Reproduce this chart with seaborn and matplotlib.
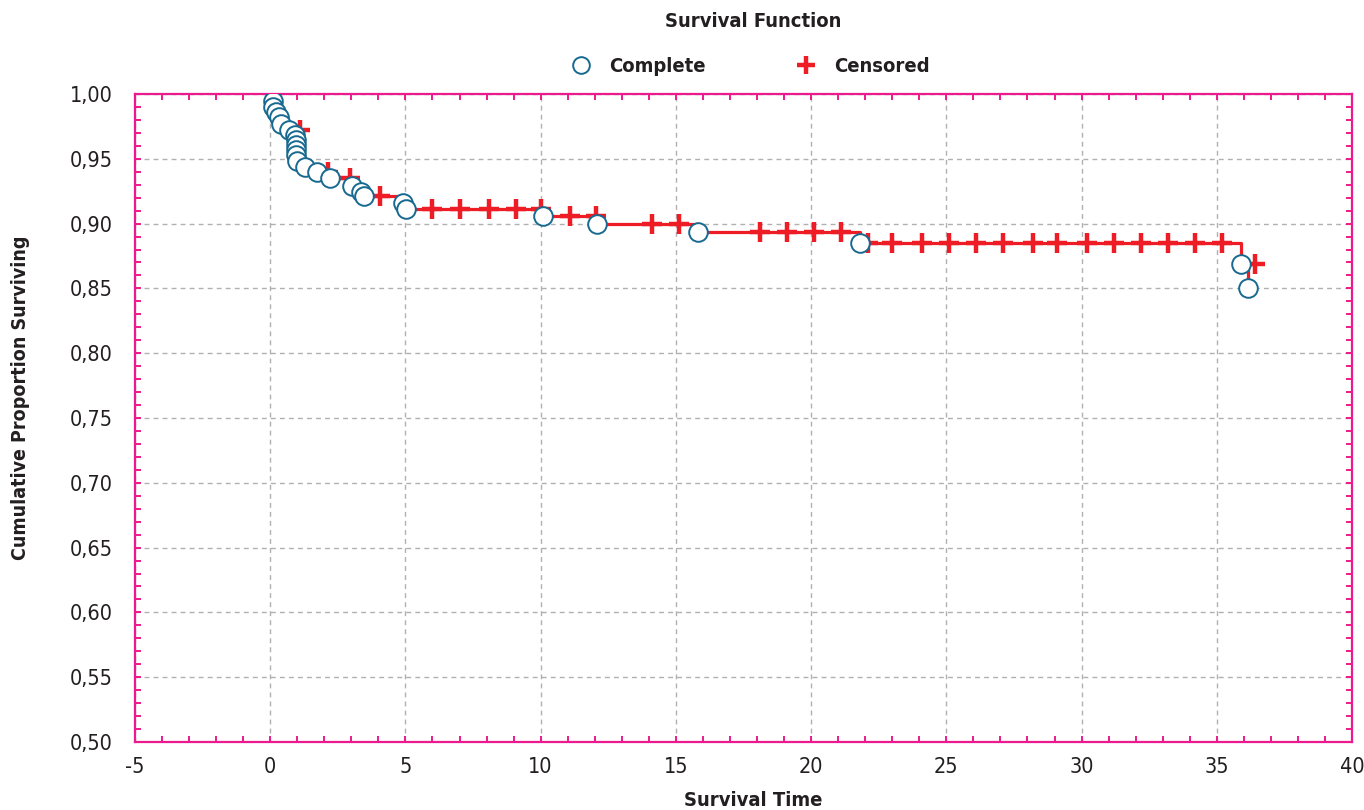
import matplotlib
matplotlib.use("Agg")
import matplotlib.pyplot as plt
from matplotlib.lines import Line2D
from matplotlib.ticker import MultipleLocator, FuncFormatter
from matplotlib import font_manager
import seaborn as sns
import pandas as pd

# ---- data ----
complete_time = [0.11, 0.11, 0.22, 0.33, 0.40, 0.70, 0.92, 0.96, 0.96, 0.96, 0.96, 1.00,
                 1.30, 1.74, 2.22, 3.03, 3.36, 3.48, 4.92, 5.03, 10.10, 12.10, 15.80,
                 21.80, 35.90, 36.15]
complete_surv = [0.9946, 0.990, 0.986, 0.982, 0.977, 0.972, 0.968, 0.9645, 0.9606, 0.9568,
                 0.953, 0.948, 0.944, 0.940, 0.935, 0.929, 0.924, 0.921, 0.916, 0.911,
                 0.906, 0.8997, 0.8933, 0.885, 0.869, 0.850]
censored_time = [1.10, 2.15, 2.96, 4.05, 6.00, 7.00, 8.10, 9.10, 10.00, 11.10, 12.05,
                 14.10, 15.10, 18.10, 19.10, 20.10, 21.10,
                 22.10, 23.00, 24.10, 25.10, 26.10, 27.10, 28.20, 29.10, 30.20, 31.20,
                 32.20, 33.20, 34.20, 35.20, 36.40]
censored_surv = [0.972, 0.940, 0.935, 0.921, 0.911, 0.911, 0.911, 0.911, 0.911, 0.906, 0.906,
                 0.8997, 0.8997, 0.8933, 0.8933, 0.8933, 0.8933,
                 0.885, 0.885, 0.885, 0.885, 0.885, 0.885, 0.885, 0.885, 0.885, 0.885,
                 0.885, 0.885, 0.885, 0.885, 0.869]
start_time = [0.0]
start_surv = [1.0]

title = "Survival Function"
legend_labels = ["Complete", "Censored"]
xlabel = "Survival Time"
ylabel = "Cumulative Proportion Surviving"

# ---- style ----
RED = "#ee1c25"
BLUE = "#17698f"
MAG = "#ec1a8c"
TXT = "#231f20"

sns.set_theme(style="white")
names = {f.name for f in font_manager.fontManager.ttflist}
if "Liberation Sans Narrow" in names:
    plt.rcParams["font.family"] = ["Liberation Sans Narrow", "DejaVu Sans"]
else:
    plt.rcParams["font.family"] = ["DejaVu Sans"]
    plt.rcParams["font.stretch"] = "condensed"

fig = plt.figure(figsize=(13.64, 8.10), dpi=100)
ax = fig.add_axes([135 / 1364, 1 - 742 / 810, (1352 - 135) / 1364, (742 - 94) / 810])

step_df = pd.DataFrame({"t": start_time + complete_time, "s": start_surv + complete_surv})
sns.lineplot(data=step_df, x="t", y="s", ax=ax, estimator=None, sort=False,
             drawstyle="steps-post", color=RED, linewidth=2.3, zorder=3)

cens_df = pd.DataFrame({"t": censored_time, "s": censored_surv})
sns.scatterplot(data=cens_df, x="t", y="s", ax=ax, marker="+", s=220, color=RED,
                linewidth=3.2, zorder=4)

comp_df = pd.DataFrame({"t": complete_time, "s": complete_surv})
sns.scatterplot(data=comp_df, x="t", y="s", ax=ax, marker="o", s=180, facecolor="white",
                edgecolor=BLUE, linewidth=1.4, zorder=5)

ax.set_xlim(-5, 40)
ax.set_ylim(0.50, 1.00)
ax.xaxis.set_major_locator(MultipleLocator(5))
ax.xaxis.set_minor_locator(MultipleLocator(1))
ax.yaxis.set_major_locator(MultipleLocator(0.05))
ax.yaxis.set_minor_locator(MultipleLocator(0.01))
ax.yaxis.set_major_formatter(FuncFormatter(lambda v, p: f"{v:.2f}".replace(".", ",")))
ax.xaxis.set_major_formatter(FuncFormatter(lambda v, p: f"{v:.0f}"))

ax.tick_params(which="both", direction="in", top=True, right=True, bottom=True, left=True,
               color=MAG, width=1.4, length=4, labelsize=15.5, labelcolor=TXT)
ax.tick_params(axis="y", which="major", pad=16)
ax.tick_params(axis="x", which="major", pad=11)

ax.grid(True, which="major", color="#b0b0b0", linestyle=(0, (3.5, 3)), linewidth=1.0)
for sp in ax.spines.values():
    sp.set_color(MAG)
    sp.set_linewidth(1.6)
    sp.set_visible(True)
ax.set_xlabel("")
ax.set_ylabel("")

fig.text(0.552, 0.973, title, ha="center", va="center", fontsize=14.5, fontweight="bold", color=TXT)
fig.text(0.552, 0.012, xlabel, ha="center", va="center", fontsize=14.5, fontweight="bold", color=TXT)
fig.text(0.015, 0.509, ylabel, ha="center", va="center", rotation=90, fontsize=14,
         fontweight="bold", color=TXT)

handles = [
    Line2D([], [], linestyle="none", marker="o", markersize=12, markerfacecolor="white",
           markeredgecolor=BLUE, markeredgewidth=1.4),
    Line2D([], [], linestyle="none", marker="+", markersize=13, color=RED, markeredgewidth=3.2),
]
leg = fig.legend(handles, legend_labels, loc="center", bbox_to_anchor=(0.548, 0.918), ncol=2,
                 frameon=False, columnspacing=4.2, handletextpad=0.6, handlelength=1.6,
                 prop={"size": 14.5, "weight": "bold"})
for t in leg.get_texts():
    t.set_color(TXT)

fig.savefig("out.png", dpi=100)
